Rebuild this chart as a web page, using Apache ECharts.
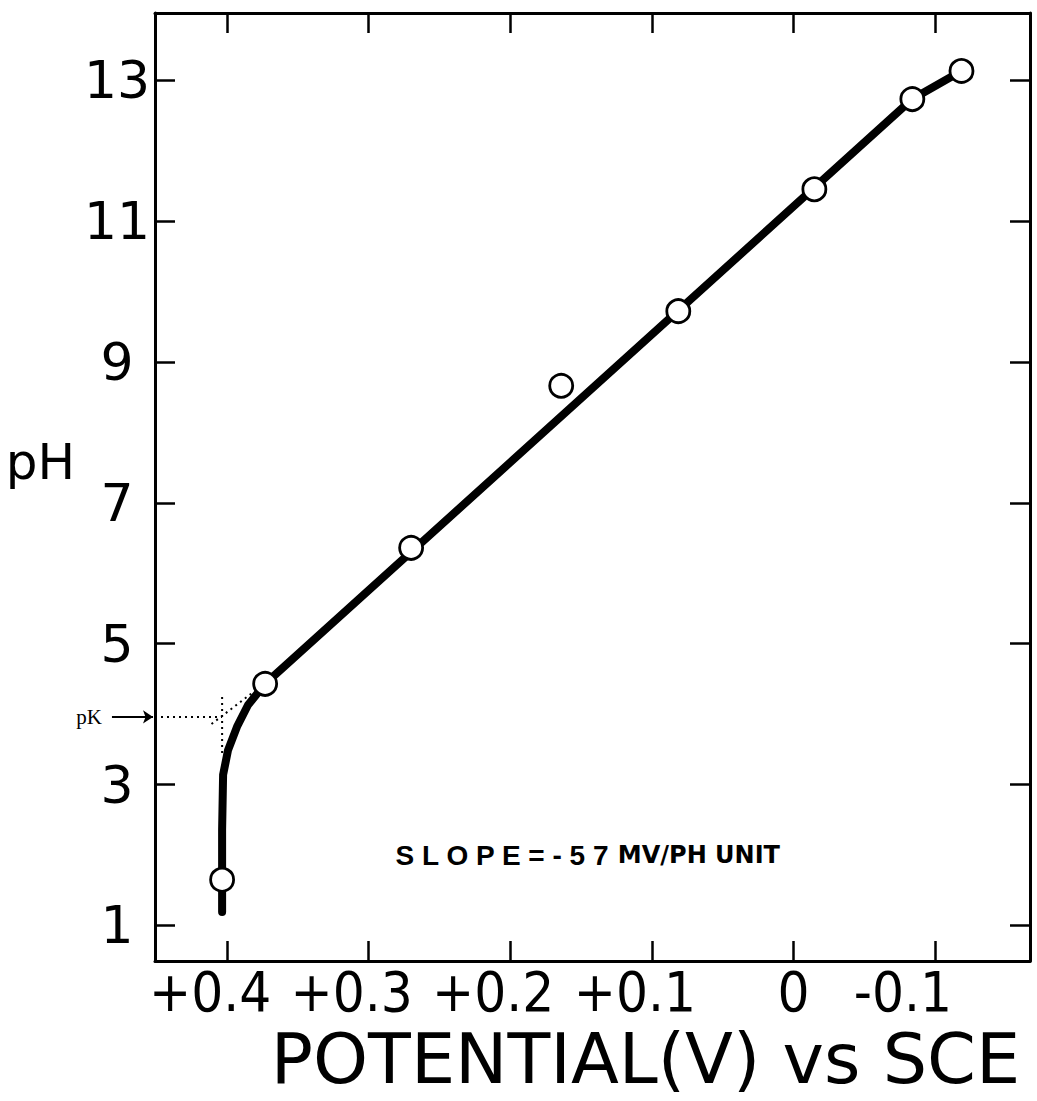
<!DOCTYPE html>
<html>
<head>
<meta charset="utf-8">
<script src="https://cdn.jsdelivr.net/npm/echarts@6/dist/echarts.min.js"></script>
<style>
  html, body { margin: 0; padding: 0; background: #fff; }
  #chart { width: 1037px; height: 1101px; }
</style>
</head>
<body>
<div id="chart"></div>
<script>
// ---- data ----
const potential = [0.4035, 0.3731, 0.270, 0.164, 0.0813, -0.0148, -0.084, -0.1187];   // V vs SCE
const pH = [1.65, 4.43, 6.36, 8.66, 9.72, 11.45, 12.73, 13.13];

// hand-drawn fitted curve
const curvePotential = [0.4035, 0.4035, 0.4035, 0.4028, 0.3993, 0.393, 0.3852, 0.3731, -0.084, -0.1187];
const curvePH = [1.19, 1.65, 2.36, 3.14, 3.49, 3.82, 4.13, 4.43, 12.73, 13.13];

// pK construction (dotted lines)
const pK = 3.96;
const pKPotential = 0.4035;
const pKVertPH = [3.45, 4.26];
const pKDiagPotential = [0.411, 0.3823];
const pKDiagPH = [3.86, 4.30];
const pKArrowPotential = [0.4813, 0.4523];
const pKLabelPotential = 0.4975;

// axes
const xTickValues = [0.4, 0.3, 0.2, 0.1, 0, -0.1];
const xTickLabels = ['+0.4', '+0.3', '+0.2', '+0.1', '0', '-0.1'];
const yTickValues = [1, 3, 5, 7, 9, 11, 13];
const yTickLabels = ['1', '3', '5', '7', '9', '11', '13'];
const xRange = [-0.1671, 0.4509];
const yRange = [0.496, 13.952];

const slopeText = ['S L O P E = - 5 7', 'MV/PH UNIT'];
const slopeAt = [0.281, 2.0];

// ---- chart ----
const chart = echarts.init(document.getElementById('chart'), null, { renderer: 'svg' });

function zip(a, b) { return a.map((v, i) => [v, b[i]]); }
function xLabelIndex(v) {
  let best = 0;
  xTickValues.forEach((t, i) => { if (Math.abs(t - v) < Math.abs(xTickValues[best] - v)) best = i; });
  return best;
}

const black = '#000';
const lineAxis = { show: true, onZero: false, lineStyle: { color: black, width: 3 } };
const tickIn = { show: true, inside: true, length: 20, lineStyle: { color: black, width: 2.5 } };
const condFont = '"DejaVu Sans Condensed", "DejaVu Sans", sans-serif';

const option = {
  backgroundColor: '#fff',
  animation: false,
  grid: { left: 155, right: 7, top: 13, bottom: 140, containLabel: false, outerBoundsMode: 'none' },
  xAxis: [
    {
      type: 'value', position: 'bottom', inverse: true,
      min: xRange[0], max: xRange[1],
      axisLine: lineAxis,
      axisTick: Object.assign({}, tickIn, { customValues: xTickValues }),
      splitLine: { show: false },
      axisLabel: {
        customValues: xTickValues,
        margin: 2,
        color: black,
        fontFamily: condFont,
        fontSize: 56,
        formatter: function (v) {
          const i = xLabelIndex(v);
          const t = xTickLabels[i];
          if (t === '0') return '{z|' + t + '}';
          if (t.charAt(0) === '-') return '{n|' + t + '}';
          return '{s|' + t + '}';
        },
        rich: {
          z: { fontSize: 56, fontFamily: condFont, color: black },
          s: { fontSize: 56, fontFamily: condFont, color: black, padding: [0, 34, 0, 0] },
          n: { fontSize: 56, fontFamily: condFont, color: black, padding: [0, 64, 0, 0] }
        }
      },
      name: 'POTENTIAL(V) vs SCE',
      nameLocation: 'middle',
      nameGap: 60,
      nameTextStyle: {
        color: black, fontSize: 70,
        fontFamily: '"DejaVu Sans", sans-serif',
        padding: [0, 0, 0, 106]
      }
    },
    {
      type: 'value', position: 'top', inverse: true,
      min: xRange[0], max: xRange[1],
      axisLine: lineAxis,
      axisTick: Object.assign({}, tickIn, { customValues: xTickValues }),
      axisLabel: { show: false },
      splitLine: { show: false }
    }
  ],
  yAxis: [
    {
      type: 'value', position: 'left',
      min: yRange[0], max: yRange[1],
      axisLine: lineAxis,
      axisTick: Object.assign({}, tickIn, { customValues: yTickValues }),
      splitLine: { show: false },
      axisLabel: {
        customValues: yTickValues,
        align: 'center',
        margin: 38,
        color: black,
        fontSize: 52,
        fontFamily: '"DejaVu Sans", sans-serif',
        formatter: function (v) { return yTickLabels[yTickValues.indexOf(Math.round(v))] || ''; }
      },
      name: 'pH',
      nameLocation: 'middle',
      nameRotate: 0,
      nameGap: 80,
      nameTextStyle: {
        color: black, fontSize: 50,
        fontFamily: '"DejaVu Sans", sans-serif',
        verticalAlign: 'bottom',
        lineHeight: 50
      }
    },
    {
      type: 'value', position: 'right',
      min: yRange[0], max: yRange[1],
      axisLine: lineAxis,
      axisTick: Object.assign({}, tickIn, { customValues: yTickValues }),
      axisLabel: { show: false },
      splitLine: { show: false }
    }
  ],
  series: [
    {
      name: 'fit', type: 'line', data: zip(curvePotential, curvePH),
      showSymbol: false, symbol: 'none', smooth: false,
      lineStyle: { color: black, width: 8, cap: 'round', join: 'round' },
      z: 3, silent: true
    },
    {
      name: 'pK horizontal', type: 'line', data: [[xRange[1], pK], [pKPotential, pK]],
      symbol: 'none', lineStyle: { color: black, width: 2, type: [2, 4] }, z: 2, silent: true
    },
    {
      name: 'pK vertical', type: 'line', data: [[pKPotential, pKVertPH[0]], [pKPotential, pKVertPH[1]]],
      symbol: 'none', lineStyle: { color: black, width: 2, type: [2, 4] }, z: 2, silent: true
    },
    {
      name: 'pK diagonal', type: 'line', data: zip(pKDiagPotential, pKDiagPH),
      symbol: 'none', lineStyle: { color: black, width: 2, type: [2, 4] }, z: 2, silent: true
    },
    {
      name: 'pK arrow', type: 'lines', coordinateSystem: 'cartesian2d', clip: false,
      data: [{ coords: [[pKArrowPotential[0], pK], [pKArrowPotential[1], pK]] }],
      symbol: ['none', 'arrow'], symbolSize: 10,
      lineStyle: { color: black, width: 2, opacity: 1, curveness: 0 },
      z: 4, silent: true
    },
    {
      name: 'pK label', type: 'scatter', clip: false,
      data: [[pKLabelPotential, pK]], symbolSize: 0,
      itemStyle: { opacity: 1, color: black },
      label: {
        show: true, position: 'inside', formatter: 'pK', color: black, textBorderWidth: 0, opacity: 1,
        fontFamily: '"Liberation Serif", "DejaVu Serif", serif', fontSize: 21
      },
      z: 4, silent: true
    },
    {
      name: 'slope note', type: 'scatter',
      data: [slopeAt], symbolSize: 0,
      itemStyle: { opacity: 1, color: black },
      label: {
        show: true, position: 'right', distance: 0, color: black, textBorderWidth: 0, opacity: 1,
        formatter: '{a|' + slopeText[0] + '}{b| ' + slopeText[1] + '}',
        rich: {
          a: { fontFamily: '"Liberation Sans", sans-serif', fontWeight: 'bold', fontSize: 28, color: black },
          b: { fontFamily: '"DejaVu Sans", sans-serif', fontWeight: 'bold', fontSize: 24, color: black }
        }
      },
      z: 4, silent: true
    },
    {
      name: 'data', type: 'scatter', data: zip(potential, pH),
      symbol: 'circle', symbolSize: 23,
      itemStyle: { color: '#fff', borderColor: black, borderWidth: 2.8, opacity: 1 },
      z: 5, silent: true
    }
  ]
};
chart.setOption(option);
</script>
</body>
</html>
